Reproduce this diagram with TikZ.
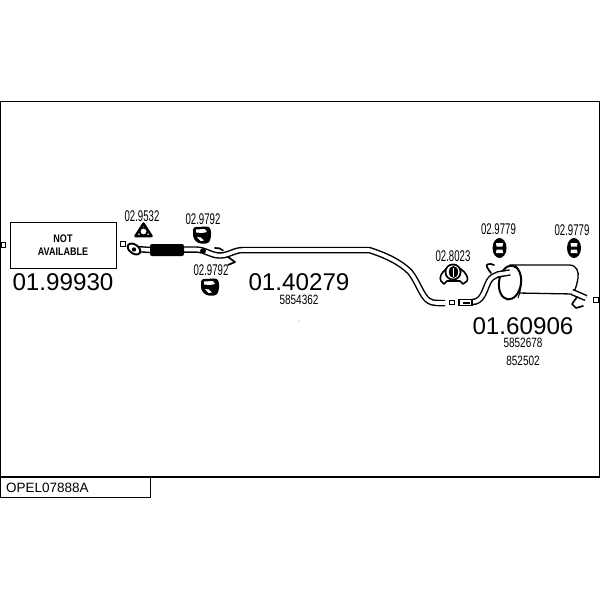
\documentclass[tikz,border=0pt]{standalone}
\usepackage{fontspec}
\setmainfont{Liberation Sans}
\usetikzlibrary{arrows.meta}
\newcommand{\narrowlabel}[1]{\scalebox{0.62}[1]{#1}}
\newcommand{\codelabel}[1]{\scalebox{0.74}[1]{#1}}
\newcommand{\boxlabel}[1]{\scalebox{0.82}[1]{#1}}
\tikzset{
	pipe/.style={line width=6.5pt, black, line cap=butt, postaction={draw, white, line width=3.6pt}},
	hook/.style={line width=1.7pt, line cap=round, line join=round},
	plug/.style={draw, line width=0.8pt, minimum size=4.5pt, inner sep=0pt},
	partno/.style={font=\fontsize{15.5}{16}\selectfont, inner sep=0pt},
	partcode/.style={font=\fontsize{13.5}{14}\selectfont, inner sep=0pt},
	refno/.style={font=\fontsize{24.2}{25}\selectfont, inner sep=0pt},
	pics/mount/.style={code={
		\fill [rounded corners=3pt] (-9,-8) -- (8,-8.5) -- (9.5,0) -- (7,8.5) -- (-4,8.5) -- (-9,3) -- cycle;
		\fill [white] (-6,-5.5) -- (3,-6) -- (5,-3) -- (0,-2) -- (-6,-2.5) -- cycle;
		\fill [white] (-5,2) -- (-1,2.5) -- (2,5.5) -- (-1.5,6) -- cycle;
	}},
	pics/hanger/.style={code={
		\fill (0,0) ellipse (7pt and 10pt);
		\fill [white] (-3.5,-5) -- (3.5,-5) -- (3,-1.5) -- (-3,-1.5) -- cycle;
		\fill [white] (-3.5,5) -- (3.5,5) -- (3,1.5) -- (-3,1.5) -- cycle;
	}}
}
\begin{document}
\begin{tikzpicture}[x=1pt,y=-1pt]
	\useasboundingbox (0,0) rectangle (600,600);

	% frame and title
	\draw [line width=1.2pt] (0.5,101.5) rectangle (599.5,477);
	\node [draw, line width=1.2pt, minimum width=150pt, minimum height=20pt, anchor=north west, inner sep=0pt] (titlebox) at (0,477) {};
	\node [font=\fontsize{13.5}{14}\selectfont, anchor=west, inner sep=0pt] (title) at (6,488) {OPEL07888A};

	% missing part
	\node [draw, line width=1pt, minimum width=106pt, minimum height=46pt, inner sep=0pt, align=center, font=\fontsize{11}{13}\bfseries\selectfont] (notavail) at (63,245) {\boxlabel{NOT}\\\boxlabel{AVAILABLE}};
	\node [refno] (ref1) at (63,282.5) {01.99930};

	\node [plug] (plugA) at (3.5,245) {};
	\node [plug] (plugB) at (123,244) {};
	\node [plug] (plugC) at (452,302.5) {};
	\node [plug] (plugD) at (596,300) {};

	% front pipe
	\draw [pipe] (136,249) -- (150,250);
	\draw [pipe] (183,249.5) -- (196,249.5) .. controls (206,250) and (210,255) .. (219,255.5) .. controls (228,256) and (234,250) .. (243,250) -- (369,250) .. controls (385,255) and (400,262) .. (410,272) .. controls (418,282) and (422,297) .. (429,301) .. controls (433,303.5) and (438,303) .. (445,303);
	\fill [rounded corners=2pt] (150,244) rectangle (184,256);
	\draw [fill=white, line width=1.9pt, rotate around={-35:(134,249)}] (134,249) ellipse (7pt and 4.5pt);
	\fill (134,249.5) circle (2.2pt);
	\fill (203,251) ellipse (3pt and 2.5pt);
	\draw [hook] (215,248) .. controls (218,247) and (221,249) .. (223,250.5);
	\draw [hook] (228,257) -- (235,262) -- (228,265);

	\node [partno] (lblA) at (142,216) {\narrowlabel{02.9532}};
	\draw [line width=2.5pt, line join=round, fill=white] (143.5,223.5) -- (135.5,236) -- (151.5,236) -- cycle;
	\draw [line width=1.8pt, fill=white] (143.5,231.5) circle (4pt);
	\node [partno] (lblB) at (203,219) {\narrowlabel{02.9792}};
	\pic at (202,235) {mount};
	\node [partno] (lblC) at (211,270) {\narrowlabel{02.9792}};
	\pic at (210,287) {mount};

	\node [refno] (ref2) at (299,282) {01.40279};
	\node [partcode] (codeA) at (299,300) {\codelabel{5854362}};
	\fill (299,321) circle (0.4pt);

	% rear silencer
	\draw [pipe] (472,302) .. controls (482,302) and (484,292) .. (488,283) .. controls (491,276) and (497,273.5) .. (510,273.5);
	\draw [line width=1.3pt, fill=white] (459,299.5) rectangle (472,305.5);
	\fill (463,301.5) rectangle (470,303.5);
	\draw [fill=white, line width=1.3pt] (510,265) -- (569,265) .. controls (577,265) and (579,272) .. (578,278) .. controls (577,284) and (576,288) .. (573,294) -- (518,293) .. controls (512,285) and (510,275) .. cycle;
	\draw [line width=2pt, fill=white, rotate around={-8:(510,282.5)}] (510,282.5) ellipse (11pt and 17pt);
	\draw [line width=1pt] (515,265) .. controls (522,272) and (523,285) .. (518,298);
	\draw [pipe] (497,274.5) -- (510,272.5);
	\draw [pipe] (572,292) -- (586,298);
	\draw [hook] (494,265) .. controls (490,263) and (485,264) .. (487,267) .. controls (488,270) and (490,271) .. (491,273);
	\draw [hook] (577,297) -- (572,304) -- (576,308) -- (583,306);

	\node [partno] (lblD) at (498.5,229) {\narrowlabel{02.9779}};
	\pic at (499.5,248) {hanger};
	\node [partno] (lblE) at (572,230.5) {\narrowlabel{02.9779}};
	\pic at (574,248) {hanger};
	\node [partno] (lblF) at (453,256) {\narrowlabel{02.8023}};
	\draw [line width=1.6pt, fill=white, line join=round] (446,269) .. controls (441,273) and (439,278) .. (441,281) -- (444,284) -- (447,281) -- (460,281) -- (463,284) -- (467,281) .. controls (469,278) and (466,273) .. (461,269) -- cycle;
	\fill (453,272) circle (8.5pt);
	\fill [white] (453,272) circle (6.6pt);
	\fill (453.5,272) ellipse (4.6pt and 6pt);
	\fill [white] (452.8,267.5) rectangle (454.2,277);

	\node [refno] (ref3) at (523,326) {01.60906};
	\node [partcode] (codeB) at (523,342.5) {\codelabel{5852678}};
	\node [partcode] (codeC) at (523,361) {\codelabel{852502}};
\end{tikzpicture}
\end{document}
